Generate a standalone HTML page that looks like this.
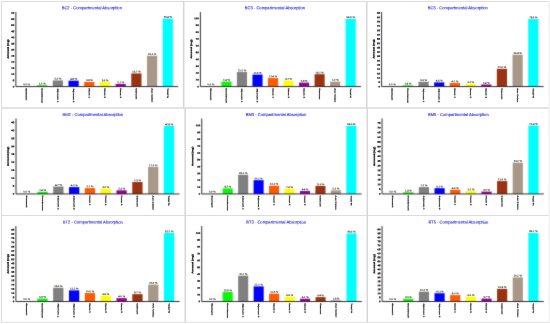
<!DOCTYPE html>
<html><head><meta charset="utf-8"><title>Compartmental Absorption</title>
<style>
html,body{margin:0;padding:0;background:#fff;}
body{width:550px;height:324px;overflow:hidden;font-family:"Liberation Sans",sans-serif;}
svg{display:block;}
svg text{font-family:"Liberation Sans",sans-serif;text-rendering:geometricPrecision;}
.tt{font-size:4.12px;fill:#1e1ee2;stroke:#1e1ee2;stroke-width:0.1px;}
.tk{font-size:2.7px;font-weight:bold;fill:#000;stroke:#000;stroke-width:0.22px;}
.vl{font-size:2.65px;font-weight:bold;fill:#30301a;stroke:#30301a;stroke-width:0.05px;}
.xl{font-size:2.85px;font-weight:bold;fill:#0a0a0a;stroke:#0a0a0a;stroke-width:0.26px;}
.yl{font-size:3.1px;font-weight:bold;fill:#000;stroke:#000;stroke-width:0.3px;}
</style></head>
<body>
<svg width="550" height="324" viewBox="0 0 550 324">
<defs><filter id="f" x="-5" y="-5" width="200" height="120" filterUnits="userSpaceOnUse" color-interpolation-filters="sRGB"><feConvolveMatrix order="3" kernelMatrix="0.0144 0.0912 0.0144 0.0912 0.5776 0.0912 0.0144 0.0912 0.0144" edgeMode="duplicate" preserveAlpha="false"/></filter><filter id="t" x="-5" y="-5" width="200" height="120" filterUnits="userSpaceOnUse" color-interpolation-filters="sRGB"><feConvolveMatrix order="3" kernelMatrix="0.0025 0.0450 0.0025 0.0450 0.8100 0.0450 0.0025 0.0450 0.0025" edgeMode="duplicate" preserveAlpha="false"/></filter></defs>
<g fill="none">
<path d="M1 1.5H549" stroke="#dedede" stroke-width="1.1"/><path d="M1 108H549" stroke="#e3e3e3" stroke-width="2"/><path d="M1 215.5H549" stroke="#dcdcdc" stroke-width="1.2"/><path d="M1 322.4H549" stroke="#e6e6e6" stroke-width="1.1"/>
<path d="M1.5 1V322.9" stroke="#dcdcdc" stroke-width="1.1"/><path d="M183.7 1V108M366.7 1V108M185.2 108V215.5M367.3 108V322.4M185.3 215.5V322.4" stroke="#d6d6d6" stroke-width="1.5"/><path d="M549.2 1V322.9" stroke="#f0f0f0" stroke-width="1.5"/>
</g>
<g transform="translate(0.00 0.00) scale(1.0000 1)">
<g filter="url(#f)">
<rect x="37.10" y="85.20" width="10.20" height="1.35" fill="#08f808"/><rect x="52.80" y="80.41" width="10.20" height="6.14" fill="#808080"/><rect x="68.50" y="80.66" width="10.20" height="5.89" fill="#0000ff"/><rect x="84.20" y="81.89" width="10.20" height="4.66" fill="#ff5a00"/><rect x="99.90" y="82.13" width="10.20" height="4.42" fill="#ffff00"/><rect x="115.60" y="83.97" width="10.20" height="2.58" fill="#990099"/><rect x="131.30" y="73.42" width="10.20" height="13.13" fill="#993311"/><rect x="147.00" y="55.74" width="10.20" height="30.81" fill="#a89888"/><rect x="162.70" y="18.55" width="10.20" height="68.00" fill="#00ffff"/>
<path d="M15.85 12.00V86.55H178.20" stroke="#1a1a1a" stroke-width="0.9" fill="none"/>
</g>
<g filter="url(#t)">
<text class="tt" transform="translate(91.80 9.20) rotate(0.06)" text-anchor="middle" style="font-size:4.120px">BC2 - Compartmental Absorption</text>
<text class="yl" transform="translate(8.70 49) rotate(-89.94) scale(1 0.74)" text-anchor="middle">Amount (mg)</text>
<text class="tk" transform="translate(14.2 87.40) rotate(0.06) scale(1 0.85)" text-anchor="end">0</text><text class="tk" transform="translate(14.2 81.26) rotate(0.06) scale(1 0.85)" text-anchor="end">5</text><text class="tk" transform="translate(14.2 75.12) rotate(0.06) scale(1 0.85)" text-anchor="end">10</text><text class="tk" transform="translate(14.2 68.99) rotate(0.06) scale(1 0.85)" text-anchor="end">15</text><text class="tk" transform="translate(14.2 62.85) rotate(0.06) scale(1 0.85)" text-anchor="end">20</text><text class="tk" transform="translate(14.2 56.71) rotate(0.06) scale(1 0.85)" text-anchor="end">25</text><text class="tk" transform="translate(14.2 50.58) rotate(0.06) scale(1 0.85)" text-anchor="end">30</text><text class="tk" transform="translate(14.2 44.44) rotate(0.06) scale(1 0.85)" text-anchor="end">35</text><text class="tk" transform="translate(14.2 38.30) rotate(0.06) scale(1 0.85)" text-anchor="end">40</text><text class="tk" transform="translate(14.2 32.16) rotate(0.06) scale(1 0.85)" text-anchor="end">45</text><text class="tk" transform="translate(14.2 26.03) rotate(0.06) scale(1 0.85)" text-anchor="end">50</text><text class="tk" transform="translate(14.2 19.89) rotate(0.06) scale(1 0.85)" text-anchor="end">55</text><text class="tk" transform="translate(14.2 13.75) rotate(0.06) scale(1 0.85)" text-anchor="end">60</text>
<text class="vl" transform="translate(26.50 85.15) rotate(0.06)" text-anchor="middle">0.0 %</text><text class="xl" transform="translate(25.85 88.2) rotate(90.06) scale(1 0.62)">Stomach</text>
<text class="vl" transform="translate(42.20 84.40) rotate(0.06)" text-anchor="middle">1.1 %</text><text class="xl" transform="translate(41.55 88.2) rotate(90.06) scale(1 0.62)">Duodenum</text>
<text class="vl" transform="translate(57.90 79.61) rotate(0.06)" text-anchor="middle">5.0 %</text><text class="xl" transform="translate(57.25 88.2) rotate(90.06) scale(1 0.62)">Jejunum 1</text>
<text class="vl" transform="translate(73.60 79.86) rotate(0.06)" text-anchor="middle">4.8 %</text><text class="xl" transform="translate(72.95 88.2) rotate(90.06) scale(1 0.62)">Jejunum 2</text>
<text class="vl" transform="translate(89.30 81.09) rotate(0.06)" text-anchor="middle">3.8 %</text><text class="xl" transform="translate(88.65 88.2) rotate(90.06) scale(1 0.62)">Ileum 1</text>
<text class="vl" transform="translate(105.00 81.33) rotate(0.06)" text-anchor="middle">3.6 %</text><text class="xl" transform="translate(104.35 88.2) rotate(90.06) scale(1 0.62)">Ileum 2</text>
<text class="vl" transform="translate(120.70 83.17) rotate(0.06)" text-anchor="middle">2.1 %</text><text class="xl" transform="translate(120.05 88.2) rotate(90.06) scale(1 0.62)">Ileum 3</text>
<text class="vl" transform="translate(136.40 72.62) rotate(0.06)" text-anchor="middle">10.7 %</text><text class="xl" transform="translate(135.75 88.2) rotate(90.06) scale(1 0.62)">Caecum</text>
<text class="vl" transform="translate(152.10 54.94) rotate(0.06)" text-anchor="middle">25.1 %</text><text class="xl" transform="translate(151.45 88.2) rotate(90.06) scale(1 0.62)">Asc Colon</text>
<text class="vl" transform="translate(167.80 17.75) rotate(0.06)" text-anchor="middle">55.4 %</text><text class="xl" transform="translate(167.15 88.2) rotate(90.06) scale(1 0.62)">Total %</text>
</g>
</g>
<g transform="translate(184.72 0.00) scale(0.9890 1)">
<g filter="url(#f)">
<rect x="37.10" y="81.51" width="10.20" height="5.04" fill="#08f808"/><rect x="52.80" y="72.03" width="10.20" height="14.52" fill="#808080"/><rect x="68.50" y="74.56" width="10.20" height="11.99" fill="#0000ff"/><rect x="84.20" y="78.10" width="10.20" height="8.45" fill="#ff5a00"/><rect x="99.90" y="80.62" width="10.20" height="5.93" fill="#ffff00"/><rect x="115.60" y="82.60" width="10.20" height="3.95" fill="#990099"/><rect x="131.30" y="74.21" width="10.20" height="12.34" fill="#993311"/><rect x="147.00" y="81.64" width="10.20" height="4.91" fill="#a89888"/><rect x="162.70" y="18.74" width="10.20" height="67.81" fill="#00ffff"/>
<path d="M15.85 12.00V86.55H178.20" stroke="#1a1a1a" stroke-width="0.9" fill="none"/>
</g>
<g filter="url(#t)">
<text class="tt" transform="translate(91.18 9.20) rotate(0.06)" text-anchor="middle" style="font-size:4.166px">BC3 - Compartmental Absorption</text>
<text class="yl" transform="translate(7.30 49) rotate(-89.94) scale(1 0.74)" text-anchor="middle">Amount (mg)</text>
<text class="tk" transform="translate(14.2 87.40) rotate(0.06) scale(1 0.85)" text-anchor="end">0</text><text class="tk" transform="translate(14.2 80.58) rotate(0.06) scale(1 0.85)" text-anchor="end">10</text><text class="tk" transform="translate(14.2 73.77) rotate(0.06) scale(1 0.85)" text-anchor="end">20</text><text class="tk" transform="translate(14.2 66.95) rotate(0.06) scale(1 0.85)" text-anchor="end">30</text><text class="tk" transform="translate(14.2 60.14) rotate(0.06) scale(1 0.85)" text-anchor="end">40</text><text class="tk" transform="translate(14.2 53.32) rotate(0.06) scale(1 0.85)" text-anchor="end">50</text><text class="tk" transform="translate(14.2 46.51) rotate(0.06) scale(1 0.85)" text-anchor="end">60</text><text class="tk" transform="translate(14.2 39.69) rotate(0.06) scale(1 0.85)" text-anchor="end">70</text><text class="tk" transform="translate(14.2 32.88) rotate(0.06) scale(1 0.85)" text-anchor="end">80</text><text class="tk" transform="translate(14.2 26.06) rotate(0.06) scale(1 0.85)" text-anchor="end">90</text><text class="tk" transform="translate(14.2 19.25) rotate(0.06) scale(1 0.85)" text-anchor="end">100</text>
<text class="vl" transform="translate(26.50 85.15) rotate(0.06)" text-anchor="middle">0.0 %</text><text class="xl" transform="translate(25.85 88.2) rotate(90.06) scale(1 0.62)">Stomach</text>
<text class="vl" transform="translate(42.20 80.71) rotate(0.06)" text-anchor="middle">7.4 %</text><text class="xl" transform="translate(41.55 88.2) rotate(90.06) scale(1 0.62)">Duodenum</text>
<text class="vl" transform="translate(57.90 71.23) rotate(0.06)" text-anchor="middle">21.3 %</text><text class="xl" transform="translate(57.25 88.2) rotate(90.06) scale(1 0.62)">Jejunum 1</text>
<text class="vl" transform="translate(73.60 73.76) rotate(0.06)" text-anchor="middle">17.6 %</text><text class="xl" transform="translate(72.95 88.2) rotate(90.06) scale(1 0.62)">Jejunum 2</text>
<text class="vl" transform="translate(89.30 77.30) rotate(0.06)" text-anchor="middle">12.4 %</text><text class="xl" transform="translate(88.65 88.2) rotate(90.06) scale(1 0.62)">Ileum 1</text>
<text class="vl" transform="translate(105.00 79.82) rotate(0.06)" text-anchor="middle">8.7 %</text><text class="xl" transform="translate(104.35 88.2) rotate(90.06) scale(1 0.62)">Ileum 2</text>
<text class="vl" transform="translate(120.70 81.80) rotate(0.06)" text-anchor="middle">5.8 %</text><text class="xl" transform="translate(120.05 88.2) rotate(90.06) scale(1 0.62)">Ileum 3</text>
<text class="vl" transform="translate(136.40 73.41) rotate(0.06)" text-anchor="middle">18.1 %</text><text class="xl" transform="translate(135.75 88.2) rotate(90.06) scale(1 0.62)">Caecum</text>
<text class="vl" transform="translate(152.10 80.84) rotate(0.06)" text-anchor="middle">7.2 %</text><text class="xl" transform="translate(151.45 88.2) rotate(90.06) scale(1 0.62)">Asc Colon</text>
<text class="vl" transform="translate(167.80 17.94) rotate(0.06)" text-anchor="middle">99.5 %</text><text class="xl" transform="translate(167.15 88.2) rotate(90.06) scale(1 0.62)">Total %</text>
</g>
</g>
<g transform="translate(365.74 0.00) scale(0.9985 1)">
<g filter="url(#f)">
<rect x="37.10" y="85.34" width="10.20" height="1.21" fill="#08f808"/><rect x="52.80" y="81.79" width="10.20" height="4.76" fill="#808080"/><rect x="68.50" y="82.40" width="10.20" height="4.15" fill="#0000ff"/><rect x="84.20" y="83.00" width="10.20" height="3.55" fill="#ff5a00"/><rect x="99.90" y="83.87" width="10.20" height="2.68" fill="#ffff00"/><rect x="115.60" y="84.47" width="10.20" height="2.08" fill="#990099"/><rect x="131.30" y="68.81" width="10.20" height="17.74" fill="#993311"/><rect x="147.00" y="54.71" width="10.20" height="31.84" fill="#a89888"/><rect x="162.70" y="19.06" width="10.20" height="67.49" fill="#00ffff"/>
<path d="M15.85 12.00V86.55H178.20" stroke="#1a1a1a" stroke-width="0.9" fill="none"/>
</g>
<g filter="url(#t)">
<text class="tt" transform="translate(92.20 9.20) rotate(0.06)" text-anchor="middle" style="font-size:4.126px">BC5 - Compartmental Absorption</text>
<text class="yl" transform="translate(8.70 49) rotate(-89.94) scale(1 0.74)" text-anchor="middle">Amount (mg)</text>
<text class="tk" transform="translate(14.2 87.40) rotate(0.06) scale(1 0.85)" text-anchor="end">0</text><text class="tk" transform="translate(14.2 83.07) rotate(0.06) scale(1 0.85)" text-anchor="end">5</text><text class="tk" transform="translate(14.2 78.75) rotate(0.06) scale(1 0.85)" text-anchor="end">10</text><text class="tk" transform="translate(14.2 74.42) rotate(0.06) scale(1 0.85)" text-anchor="end">15</text><text class="tk" transform="translate(14.2 70.09) rotate(0.06) scale(1 0.85)" text-anchor="end">20</text><text class="tk" transform="translate(14.2 65.77) rotate(0.06) scale(1 0.85)" text-anchor="end">25</text><text class="tk" transform="translate(14.2 61.44) rotate(0.06) scale(1 0.85)" text-anchor="end">30</text><text class="tk" transform="translate(14.2 57.11) rotate(0.06) scale(1 0.85)" text-anchor="end">35</text><text class="tk" transform="translate(14.2 52.79) rotate(0.06) scale(1 0.85)" text-anchor="end">40</text><text class="tk" transform="translate(14.2 48.46) rotate(0.06) scale(1 0.85)" text-anchor="end">45</text><text class="tk" transform="translate(14.2 44.14) rotate(0.06) scale(1 0.85)" text-anchor="end">50</text><text class="tk" transform="translate(14.2 39.81) rotate(0.06) scale(1 0.85)" text-anchor="end">55</text><text class="tk" transform="translate(14.2 35.48) rotate(0.06) scale(1 0.85)" text-anchor="end">60</text><text class="tk" transform="translate(14.2 31.16) rotate(0.06) scale(1 0.85)" text-anchor="end">65</text><text class="tk" transform="translate(14.2 26.83) rotate(0.06) scale(1 0.85)" text-anchor="end">70</text><text class="tk" transform="translate(14.2 22.50) rotate(0.06) scale(1 0.85)" text-anchor="end">75</text><text class="tk" transform="translate(14.2 18.18) rotate(0.06) scale(1 0.85)" text-anchor="end">80</text><text class="tk" transform="translate(14.2 13.85) rotate(0.06) scale(1 0.85)" text-anchor="end">85</text>
<text class="vl" transform="translate(26.50 85.15) rotate(0.06)" text-anchor="middle">0.0 %</text><text class="xl" transform="translate(25.85 88.2) rotate(90.06) scale(1 0.62)">Stomach</text>
<text class="vl" transform="translate(42.20 84.54) rotate(0.06)" text-anchor="middle">1.4 %</text><text class="xl" transform="translate(41.55 88.2) rotate(90.06) scale(1 0.62)">Duodenum</text>
<text class="vl" transform="translate(57.90 80.99) rotate(0.06)" text-anchor="middle">5.5 %</text><text class="xl" transform="translate(57.25 88.2) rotate(90.06) scale(1 0.62)">Jejunum 1</text>
<text class="vl" transform="translate(73.60 81.60) rotate(0.06)" text-anchor="middle">4.8 %</text><text class="xl" transform="translate(72.95 88.2) rotate(90.06) scale(1 0.62)">Jejunum 2</text>
<text class="vl" transform="translate(89.30 82.20) rotate(0.06)" text-anchor="middle">4.1 %</text><text class="xl" transform="translate(88.65 88.2) rotate(90.06) scale(1 0.62)">Ileum 1</text>
<text class="vl" transform="translate(105.00 83.07) rotate(0.06)" text-anchor="middle">3.1 %</text><text class="xl" transform="translate(104.35 88.2) rotate(90.06) scale(1 0.62)">Ileum 2</text>
<text class="vl" transform="translate(120.70 83.67) rotate(0.06)" text-anchor="middle">2.4 %</text><text class="xl" transform="translate(120.05 88.2) rotate(90.06) scale(1 0.62)">Ileum 3</text>
<text class="vl" transform="translate(136.40 68.01) rotate(0.06)" text-anchor="middle">20.5 %</text><text class="xl" transform="translate(135.75 88.2) rotate(90.06) scale(1 0.62)">Caecum</text>
<text class="vl" transform="translate(152.10 53.91) rotate(0.06)" text-anchor="middle">36.8 %</text><text class="xl" transform="translate(151.45 88.2) rotate(90.06) scale(1 0.62)">Asc Colon</text>
<text class="vl" transform="translate(167.80 18.26) rotate(0.06)" text-anchor="middle">78.0 %</text><text class="xl" transform="translate(167.15 88.2) rotate(90.06) scale(1 0.62)">Total %</text>
</g>
</g>
<g transform="translate(0.05 107.40) scale(1.0070 1)">
<g filter="url(#f)">
<rect x="37.10" y="84.33" width="10.20" height="2.22" fill="#08f808"/><rect x="52.80" y="79.09" width="10.20" height="7.46" fill="#808080"/><rect x="68.50" y="79.72" width="10.20" height="6.83" fill="#0000ff"/><rect x="84.20" y="80.68" width="10.20" height="5.87" fill="#ff5a00"/><rect x="99.90" y="81.47" width="10.20" height="5.08" fill="#ffff00"/><rect x="115.60" y="82.90" width="10.20" height="3.65" fill="#990099"/><rect x="131.30" y="74.64" width="10.20" height="11.91" fill="#993311"/><rect x="147.00" y="59.56" width="10.20" height="26.99" fill="#a89888"/><rect x="162.70" y="18.59" width="10.20" height="67.96" fill="#00ffff"/>
<path d="M15.85 11.10V86.55H178.20" stroke="#1a1a1a" stroke-width="0.9" fill="none"/>
</g>
<g filter="url(#t)">
<text class="tt" transform="translate(92.10 8.65) rotate(0.06)" text-anchor="middle" style="font-size:4.091px">BM2 - Compartmental Absorption</text>
<text class="yl" transform="translate(8.70 49) rotate(-89.94) scale(1 0.74)" text-anchor="middle">Amount (mg)</text>
<text class="tk" transform="translate(14.2 87.40) rotate(0.06) scale(1 0.85)" text-anchor="end">0</text><text class="tk" transform="translate(14.2 79.46) rotate(0.06) scale(1 0.85)" text-anchor="end">5</text><text class="tk" transform="translate(14.2 71.52) rotate(0.06) scale(1 0.85)" text-anchor="end">10</text><text class="tk" transform="translate(14.2 63.58) rotate(0.06) scale(1 0.85)" text-anchor="end">15</text><text class="tk" transform="translate(14.2 55.64) rotate(0.06) scale(1 0.85)" text-anchor="end">20</text><text class="tk" transform="translate(14.2 47.71) rotate(0.06) scale(1 0.85)" text-anchor="end">25</text><text class="tk" transform="translate(14.2 39.77) rotate(0.06) scale(1 0.85)" text-anchor="end">30</text><text class="tk" transform="translate(14.2 31.83) rotate(0.06) scale(1 0.85)" text-anchor="end">35</text><text class="tk" transform="translate(14.2 23.89) rotate(0.06) scale(1 0.85)" text-anchor="end">40</text><text class="tk" transform="translate(14.2 15.95) rotate(0.06) scale(1 0.85)" text-anchor="end">45</text>
<text class="vl" transform="translate(26.50 85.15) rotate(0.06)" text-anchor="middle">0.0 %</text><text class="xl" transform="translate(25.85 88.2) rotate(90.06) scale(1 0.62)">Stomach</text>
<text class="vl" transform="translate(42.20 83.53) rotate(0.06)" text-anchor="middle">1.4 %</text><text class="xl" transform="translate(41.55 88.2) rotate(90.06) scale(1 0.62)">Duodenum</text>
<text class="vl" transform="translate(57.90 78.29) rotate(0.06)" text-anchor="middle">4.7 %</text><text class="xl" transform="translate(57.25 88.2) rotate(90.06) scale(1 0.62)">Jejunum 1</text>
<text class="vl" transform="translate(73.60 78.92) rotate(0.06)" text-anchor="middle">4.3 %</text><text class="xl" transform="translate(72.95 88.2) rotate(90.06) scale(1 0.62)">Jejunum 2</text>
<text class="vl" transform="translate(89.30 79.88) rotate(0.06)" text-anchor="middle">3.7 %</text><text class="xl" transform="translate(88.65 88.2) rotate(90.06) scale(1 0.62)">Ileum 1</text>
<text class="vl" transform="translate(105.00 80.67) rotate(0.06)" text-anchor="middle">3.2 %</text><text class="xl" transform="translate(104.35 88.2) rotate(90.06) scale(1 0.62)">Ileum 2</text>
<text class="vl" transform="translate(120.70 82.10) rotate(0.06)" text-anchor="middle">2.3 %</text><text class="xl" transform="translate(120.05 88.2) rotate(90.06) scale(1 0.62)">Ileum 3</text>
<text class="vl" transform="translate(136.40 73.84) rotate(0.06)" text-anchor="middle">7.5 %</text><text class="xl" transform="translate(135.75 88.2) rotate(90.06) scale(1 0.62)">Caecum</text>
<text class="vl" transform="translate(152.10 58.76) rotate(0.06)" text-anchor="middle">17.0 %</text><text class="xl" transform="translate(151.45 88.2) rotate(90.06) scale(1 0.62)">Asc Colon</text>
<text class="vl" transform="translate(167.80 17.79) rotate(0.06)" text-anchor="middle">42.8 %</text><text class="xl" transform="translate(167.15 88.2) rotate(90.06) scale(1 0.62)">Total %</text>
</g>
</g>
<g transform="translate(186.15 107.40) scale(0.9846 1)">
<g filter="url(#f)">
<rect x="37.10" y="80.94" width="10.20" height="5.61" fill="#08f808"/><rect x="52.80" y="67.32" width="10.20" height="19.23" fill="#808080"/><rect x="68.50" y="72.79" width="10.20" height="13.76" fill="#0000ff"/><rect x="84.20" y="78.27" width="10.20" height="8.28" fill="#ff5a00"/><rect x="99.90" y="81.35" width="10.20" height="5.20" fill="#ffff00"/><rect x="115.60" y="83.54" width="10.20" height="3.01" fill="#990099"/><rect x="131.30" y="78.61" width="10.20" height="7.94" fill="#993311"/><rect x="147.00" y="82.99" width="10.20" height="3.56" fill="#a89888"/><rect x="162.70" y="18.44" width="10.20" height="68.11" fill="#00ffff"/>
<path d="M15.85 11.10V86.55H178.20" stroke="#1a1a1a" stroke-width="0.9" fill="none"/>
</g>
<g filter="url(#t)">
<text class="tt" transform="translate(91.26 8.65) rotate(0.06)" text-anchor="middle" style="font-size:4.184px">BM3 - Compartmental Absorption</text>
<text class="yl" transform="translate(7.30 49) rotate(-89.94) scale(1 0.74)" text-anchor="middle">Amount (mg)</text>
<text class="tk" transform="translate(14.2 87.40) rotate(0.06) scale(1 0.85)" text-anchor="end">0</text><text class="tk" transform="translate(14.2 80.55) rotate(0.06) scale(1 0.85)" text-anchor="end">10</text><text class="tk" transform="translate(14.2 73.71) rotate(0.06) scale(1 0.85)" text-anchor="end">20</text><text class="tk" transform="translate(14.2 66.86) rotate(0.06) scale(1 0.85)" text-anchor="end">30</text><text class="tk" transform="translate(14.2 60.02) rotate(0.06) scale(1 0.85)" text-anchor="end">40</text><text class="tk" transform="translate(14.2 53.18) rotate(0.06) scale(1 0.85)" text-anchor="end">50</text><text class="tk" transform="translate(14.2 46.33) rotate(0.06) scale(1 0.85)" text-anchor="end">60</text><text class="tk" transform="translate(14.2 39.49) rotate(0.06) scale(1 0.85)" text-anchor="end">70</text><text class="tk" transform="translate(14.2 32.64) rotate(0.06) scale(1 0.85)" text-anchor="end">80</text><text class="tk" transform="translate(14.2 25.80) rotate(0.06) scale(1 0.85)" text-anchor="end">90</text><text class="tk" transform="translate(14.2 18.95) rotate(0.06) scale(1 0.85)" text-anchor="end">100</text>
<text class="vl" transform="translate(26.50 85.15) rotate(0.06)" text-anchor="middle">0.0 %</text><text class="xl" transform="translate(25.85 88.2) rotate(90.06) scale(1 0.62)">Stomach</text>
<text class="vl" transform="translate(42.20 80.14) rotate(0.06)" text-anchor="middle">8.2 %</text><text class="xl" transform="translate(41.55 88.2) rotate(90.06) scale(1 0.62)">Duodenum</text>
<text class="vl" transform="translate(57.90 66.52) rotate(0.06)" text-anchor="middle">28.1 %</text><text class="xl" transform="translate(57.25 88.2) rotate(90.06) scale(1 0.62)">Jejunum 1</text>
<text class="vl" transform="translate(73.60 71.99) rotate(0.06)" text-anchor="middle">20.1 %</text><text class="xl" transform="translate(72.95 88.2) rotate(90.06) scale(1 0.62)">Jejunum 2</text>
<text class="vl" transform="translate(89.30 77.47) rotate(0.06)" text-anchor="middle">12.1 %</text><text class="xl" transform="translate(88.65 88.2) rotate(90.06) scale(1 0.62)">Ileum 1</text>
<text class="vl" transform="translate(105.00 80.55) rotate(0.06)" text-anchor="middle">7.6 %</text><text class="xl" transform="translate(104.35 88.2) rotate(90.06) scale(1 0.62)">Ileum 2</text>
<text class="vl" transform="translate(120.70 82.74) rotate(0.06)" text-anchor="middle">4.4 %</text><text class="xl" transform="translate(120.05 88.2) rotate(90.06) scale(1 0.62)">Ileum 3</text>
<text class="vl" transform="translate(136.40 77.81) rotate(0.06)" text-anchor="middle">11.6 %</text><text class="xl" transform="translate(135.75 88.2) rotate(90.06) scale(1 0.62)">Caecum</text>
<text class="vl" transform="translate(152.10 82.19) rotate(0.06)" text-anchor="middle">5.2 %</text><text class="xl" transform="translate(151.45 88.2) rotate(90.06) scale(1 0.62)">Asc Colon</text>
<text class="vl" transform="translate(167.80 17.64) rotate(0.06)" text-anchor="middle">99.5 %</text><text class="xl" transform="translate(167.15 88.2) rotate(90.06) scale(1 0.62)">Total %</text>
</g>
</g>
<g transform="translate(366.26 107.40) scale(0.9963 1)">
<g filter="url(#f)">
<rect x="37.10" y="84.85" width="10.20" height="1.70" fill="#08f808"/><rect x="52.80" y="79.74" width="10.20" height="6.81" fill="#808080"/><rect x="68.50" y="80.78" width="10.20" height="5.77" fill="#0000ff"/><rect x="84.20" y="82.29" width="10.20" height="4.26" fill="#ff5a00"/><rect x="99.90" y="83.62" width="10.20" height="2.93" fill="#ffff00"/><rect x="115.60" y="84.19" width="10.20" height="2.37" fill="#990099"/><rect x="131.30" y="73.68" width="10.20" height="12.87" fill="#993311"/><rect x="147.00" y="55.24" width="10.20" height="31.31" fill="#a89888"/><rect x="162.70" y="18.06" width="10.20" height="68.49" fill="#00ffff"/>
<path d="M15.85 11.10V86.55H178.20" stroke="#1a1a1a" stroke-width="0.9" fill="none"/>
</g>
<g filter="url(#t)">
<text class="tt" transform="translate(92.38 8.65) rotate(0.06)" text-anchor="middle" style="font-size:4.135px">BM5 - Compartmental Absorption</text>
<text class="yl" transform="translate(8.70 49) rotate(-89.94) scale(1 0.74)" text-anchor="middle">Amount (mg)</text>
<text class="tk" transform="translate(14.2 87.40) rotate(0.06) scale(1 0.85)" text-anchor="end">0</text><text class="tk" transform="translate(14.2 82.67) rotate(0.06) scale(1 0.85)" text-anchor="end">5</text><text class="tk" transform="translate(14.2 77.94) rotate(0.06) scale(1 0.85)" text-anchor="end">10</text><text class="tk" transform="translate(14.2 73.21) rotate(0.06) scale(1 0.85)" text-anchor="end">15</text><text class="tk" transform="translate(14.2 68.48) rotate(0.06) scale(1 0.85)" text-anchor="end">20</text><text class="tk" transform="translate(14.2 63.75) rotate(0.06) scale(1 0.85)" text-anchor="end">25</text><text class="tk" transform="translate(14.2 59.02) rotate(0.06) scale(1 0.85)" text-anchor="end">30</text><text class="tk" transform="translate(14.2 54.29) rotate(0.06) scale(1 0.85)" text-anchor="end">35</text><text class="tk" transform="translate(14.2 49.56) rotate(0.06) scale(1 0.85)" text-anchor="end">40</text><text class="tk" transform="translate(14.2 44.83) rotate(0.06) scale(1 0.85)" text-anchor="end">45</text><text class="tk" transform="translate(14.2 40.10) rotate(0.06) scale(1 0.85)" text-anchor="end">50</text><text class="tk" transform="translate(14.2 35.37) rotate(0.06) scale(1 0.85)" text-anchor="end">55</text><text class="tk" transform="translate(14.2 30.64) rotate(0.06) scale(1 0.85)" text-anchor="end">60</text><text class="tk" transform="translate(14.2 25.91) rotate(0.06) scale(1 0.85)" text-anchor="end">65</text><text class="tk" transform="translate(14.2 21.18) rotate(0.06) scale(1 0.85)" text-anchor="end">70</text><text class="tk" transform="translate(14.2 16.45) rotate(0.06) scale(1 0.85)" text-anchor="end">75</text>
<text class="vl" transform="translate(26.50 85.15) rotate(0.06)" text-anchor="middle">0.0 %</text><text class="xl" transform="translate(25.85 88.2) rotate(90.06) scale(1 0.62)">Stomach</text>
<text class="vl" transform="translate(42.20 84.05) rotate(0.06)" text-anchor="middle">1.8 %</text><text class="xl" transform="translate(41.55 88.2) rotate(90.06) scale(1 0.62)">Duodenum</text>
<text class="vl" transform="translate(57.90 78.94) rotate(0.06)" text-anchor="middle">7.2 %</text><text class="xl" transform="translate(57.25 88.2) rotate(90.06) scale(1 0.62)">Jejunum 1</text>
<text class="vl" transform="translate(73.60 79.98) rotate(0.06)" text-anchor="middle">6.1 %</text><text class="xl" transform="translate(72.95 88.2) rotate(90.06) scale(1 0.62)">Jejunum 2</text>
<text class="vl" transform="translate(89.30 81.49) rotate(0.06)" text-anchor="middle">4.5 %</text><text class="xl" transform="translate(88.65 88.2) rotate(90.06) scale(1 0.62)">Ileum 1</text>
<text class="vl" transform="translate(105.00 82.82) rotate(0.06)" text-anchor="middle">3.1 %</text><text class="xl" transform="translate(104.35 88.2) rotate(90.06) scale(1 0.62)">Ileum 2</text>
<text class="vl" transform="translate(120.70 83.39) rotate(0.06)" text-anchor="middle">2.5 %</text><text class="xl" transform="translate(120.05 88.2) rotate(90.06) scale(1 0.62)">Ileum 3</text>
<text class="vl" transform="translate(136.40 72.88) rotate(0.06)" text-anchor="middle">13.6 %</text><text class="xl" transform="translate(135.75 88.2) rotate(90.06) scale(1 0.62)">Caecum</text>
<text class="vl" transform="translate(152.10 54.44) rotate(0.06)" text-anchor="middle">33.1 %</text><text class="xl" transform="translate(151.45 88.2) rotate(90.06) scale(1 0.62)">Asc Colon</text>
<text class="vl" transform="translate(167.80 17.26) rotate(0.06)" text-anchor="middle">72.4 %</text><text class="xl" transform="translate(167.15 88.2) rotate(90.06) scale(1 0.62)">Total %</text>
</g>
</g>
<g transform="translate(-0.10 214.95) scale(1.0085 1)">
<g filter="url(#f)">
<rect x="37.10" y="83.51" width="10.20" height="3.04" fill="#08f808"/><rect x="52.80" y="72.79" width="10.20" height="13.76" fill="#808080"/><rect x="68.50" y="75.41" width="10.20" height="11.14" fill="#0000ff"/><rect x="84.20" y="78.11" width="10.20" height="8.44" fill="#ff5a00"/><rect x="99.90" y="80.73" width="10.20" height="5.82" fill="#ffff00"/><rect x="115.60" y="83.17" width="10.20" height="3.38" fill="#990099"/><rect x="131.30" y="79.21" width="10.20" height="7.34" fill="#993311"/><rect x="147.00" y="69.67" width="10.20" height="16.88" fill="#a89888"/><rect x="162.70" y="18.01" width="10.20" height="68.54" fill="#00ffff"/>
<path d="M15.85 11.10V86.55H178.20" stroke="#1a1a1a" stroke-width="0.9" fill="none"/>
</g>
<g filter="url(#t)">
<text class="tt" transform="translate(92.10 8.65) rotate(0.06)" text-anchor="middle" style="font-size:4.085px">BT2 - Compartmental Absorption</text>
<text class="yl" transform="translate(8.70 49) rotate(-89.94) scale(1 0.74)" text-anchor="middle">Amount (mg)</text>
<text class="tk" transform="translate(14.2 87.40) rotate(0.06) scale(1 0.85)" text-anchor="end">0</text><text class="tk" transform="translate(14.2 83.18) rotate(0.06) scale(1 0.85)" text-anchor="end">5</text><text class="tk" transform="translate(14.2 78.96) rotate(0.06) scale(1 0.85)" text-anchor="end">10</text><text class="tk" transform="translate(14.2 74.74) rotate(0.06) scale(1 0.85)" text-anchor="end">15</text><text class="tk" transform="translate(14.2 70.52) rotate(0.06) scale(1 0.85)" text-anchor="end">20</text><text class="tk" transform="translate(14.2 66.30) rotate(0.06) scale(1 0.85)" text-anchor="end">25</text><text class="tk" transform="translate(14.2 62.08) rotate(0.06) scale(1 0.85)" text-anchor="end">30</text><text class="tk" transform="translate(14.2 57.86) rotate(0.06) scale(1 0.85)" text-anchor="end">35</text><text class="tk" transform="translate(14.2 53.64) rotate(0.06) scale(1 0.85)" text-anchor="end">40</text><text class="tk" transform="translate(14.2 49.41) rotate(0.06) scale(1 0.85)" text-anchor="end">45</text><text class="tk" transform="translate(14.2 45.19) rotate(0.06) scale(1 0.85)" text-anchor="end">50</text><text class="tk" transform="translate(14.2 40.97) rotate(0.06) scale(1 0.85)" text-anchor="end">55</text><text class="tk" transform="translate(14.2 36.75) rotate(0.06) scale(1 0.85)" text-anchor="end">60</text><text class="tk" transform="translate(14.2 32.53) rotate(0.06) scale(1 0.85)" text-anchor="end">65</text><text class="tk" transform="translate(14.2 28.31) rotate(0.06) scale(1 0.85)" text-anchor="end">70</text><text class="tk" transform="translate(14.2 24.09) rotate(0.06) scale(1 0.85)" text-anchor="end">75</text><text class="tk" transform="translate(14.2 19.87) rotate(0.06) scale(1 0.85)" text-anchor="end">80</text><text class="tk" transform="translate(14.2 15.65) rotate(0.06) scale(1 0.85)" text-anchor="end">85</text>
<text class="vl" transform="translate(26.50 85.15) rotate(0.06)" text-anchor="middle">0.0 %</text><text class="xl" transform="translate(25.85 88.2) rotate(90.06) scale(1 0.62)">Stomach</text>
<text class="vl" transform="translate(42.20 82.71) rotate(0.06)" text-anchor="middle">3.6 %</text><text class="xl" transform="translate(41.55 88.2) rotate(90.06) scale(1 0.62)">Duodenum</text>
<text class="vl" transform="translate(57.90 71.99) rotate(0.06)" text-anchor="middle">16.3 %</text><text class="xl" transform="translate(57.25 88.2) rotate(90.06) scale(1 0.62)">Jejunum 1</text>
<text class="vl" transform="translate(73.60 74.61) rotate(0.06)" text-anchor="middle">13.2 %</text><text class="xl" transform="translate(72.95 88.2) rotate(90.06) scale(1 0.62)">Jejunum 2</text>
<text class="vl" transform="translate(89.30 77.31) rotate(0.06)" text-anchor="middle">10.0 %</text><text class="xl" transform="translate(88.65 88.2) rotate(90.06) scale(1 0.62)">Ileum 1</text>
<text class="vl" transform="translate(105.00 79.93) rotate(0.06)" text-anchor="middle">6.9 %</text><text class="xl" transform="translate(104.35 88.2) rotate(90.06) scale(1 0.62)">Ileum 2</text>
<text class="vl" transform="translate(120.70 82.37) rotate(0.06)" text-anchor="middle">4.0 %</text><text class="xl" transform="translate(120.05 88.2) rotate(90.06) scale(1 0.62)">Ileum 3</text>
<text class="vl" transform="translate(136.40 78.41) rotate(0.06)" text-anchor="middle">8.7 %</text><text class="xl" transform="translate(135.75 88.2) rotate(90.06) scale(1 0.62)">Caecum</text>
<text class="vl" transform="translate(152.10 68.87) rotate(0.06)" text-anchor="middle">20.0 %</text><text class="xl" transform="translate(151.45 88.2) rotate(90.06) scale(1 0.62)">Asc Colon</text>
<text class="vl" transform="translate(167.80 17.21) rotate(0.06)" text-anchor="middle">81.2 %</text><text class="xl" transform="translate(167.15 88.2) rotate(90.06) scale(1 0.62)">Total %</text>
</g>
</g>
<g transform="translate(186.10 214.95) scale(0.9860 1)">
<g filter="url(#f)">
<rect x="21.40" y="86.41" width="10.20" height="0.14" fill="#00c000"/><rect x="37.10" y="77.04" width="10.20" height="9.51" fill="#08f808"/><rect x="52.80" y="60.74" width="10.20" height="25.81" fill="#808080"/><rect x="68.50" y="71.42" width="10.20" height="15.13" fill="#0000ff"/><rect x="84.20" y="78.68" width="10.20" height="7.87" fill="#ff5a00"/><rect x="99.90" y="81.83" width="10.20" height="4.72" fill="#ffff00"/><rect x="115.60" y="83.74" width="10.20" height="2.81" fill="#990099"/><rect x="131.30" y="82.17" width="10.20" height="4.38" fill="#993311"/><rect x="147.00" y="85.32" width="10.20" height="1.23" fill="#a89888"/><rect x="162.70" y="18.44" width="10.20" height="68.11" fill="#00ffff"/>
<path d="M15.85 11.10V86.55H178.20" stroke="#1a1a1a" stroke-width="0.9" fill="none"/>
</g>
<g filter="url(#t)">
<text class="tt" transform="translate(91.33 8.65) rotate(0.06)" text-anchor="middle" style="font-size:4.178px">BT3 - Compartmental Absorption</text>
<text class="yl" transform="translate(7.30 49) rotate(-89.94) scale(1 0.74)" text-anchor="middle">Amount (mg)</text>
<text class="tk" transform="translate(14.2 87.40) rotate(0.06) scale(1 0.85)" text-anchor="end">0</text><text class="tk" transform="translate(14.2 80.55) rotate(0.06) scale(1 0.85)" text-anchor="end">10</text><text class="tk" transform="translate(14.2 73.71) rotate(0.06) scale(1 0.85)" text-anchor="end">20</text><text class="tk" transform="translate(14.2 66.86) rotate(0.06) scale(1 0.85)" text-anchor="end">30</text><text class="tk" transform="translate(14.2 60.02) rotate(0.06) scale(1 0.85)" text-anchor="end">40</text><text class="tk" transform="translate(14.2 53.18) rotate(0.06) scale(1 0.85)" text-anchor="end">50</text><text class="tk" transform="translate(14.2 46.33) rotate(0.06) scale(1 0.85)" text-anchor="end">60</text><text class="tk" transform="translate(14.2 39.49) rotate(0.06) scale(1 0.85)" text-anchor="end">70</text><text class="tk" transform="translate(14.2 32.64) rotate(0.06) scale(1 0.85)" text-anchor="end">80</text><text class="tk" transform="translate(14.2 25.80) rotate(0.06) scale(1 0.85)" text-anchor="end">90</text><text class="tk" transform="translate(14.2 18.95) rotate(0.06) scale(1 0.85)" text-anchor="end">100</text>
<text class="vl" transform="translate(26.50 85.15) rotate(0.06)" text-anchor="middle">0.2 %</text><text class="xl" transform="translate(25.85 88.2) rotate(90.06) scale(1 0.62)">Stomach</text>
<text class="vl" transform="translate(42.20 76.24) rotate(0.06)" text-anchor="middle">13.9 %</text><text class="xl" transform="translate(41.55 88.2) rotate(90.06) scale(1 0.62)">Duodenum</text>
<text class="vl" transform="translate(57.90 59.94) rotate(0.06)" text-anchor="middle">37.7 %</text><text class="xl" transform="translate(57.25 88.2) rotate(90.06) scale(1 0.62)">Jejunum 1</text>
<text class="vl" transform="translate(73.60 70.62) rotate(0.06)" text-anchor="middle">22.1 %</text><text class="xl" transform="translate(72.95 88.2) rotate(90.06) scale(1 0.62)">Jejunum 2</text>
<text class="vl" transform="translate(89.30 77.88) rotate(0.06)" text-anchor="middle">11.5 %</text><text class="xl" transform="translate(88.65 88.2) rotate(90.06) scale(1 0.62)">Ileum 1</text>
<text class="vl" transform="translate(105.00 81.03) rotate(0.06)" text-anchor="middle">6.9 %</text><text class="xl" transform="translate(104.35 88.2) rotate(90.06) scale(1 0.62)">Ileum 2</text>
<text class="vl" transform="translate(120.70 82.94) rotate(0.06)" text-anchor="middle">4.1 %</text><text class="xl" transform="translate(120.05 88.2) rotate(90.06) scale(1 0.62)">Ileum 3</text>
<text class="vl" transform="translate(136.40 81.37) rotate(0.06)" text-anchor="middle">6.4 %</text><text class="xl" transform="translate(135.75 88.2) rotate(90.06) scale(1 0.62)">Caecum</text>
<text class="vl" transform="translate(152.10 84.52) rotate(0.06)" text-anchor="middle">1.8 %</text><text class="xl" transform="translate(151.45 88.2) rotate(90.06) scale(1 0.62)">Asc Colon</text>
<text class="vl" transform="translate(167.80 17.64) rotate(0.06)" text-anchor="middle">99.5 %</text><text class="xl" transform="translate(167.15 88.2) rotate(90.06) scale(1 0.62)">Total %</text>
</g>
</g>
<g transform="translate(366.26 214.95) scale(0.9963 1)">
<g filter="url(#f)">
<rect x="37.10" y="83.75" width="10.20" height="2.80" fill="#08f808"/><rect x="52.80" y="76.70" width="10.20" height="9.85" fill="#808080"/><rect x="68.50" y="78.30" width="10.20" height="8.25" fill="#0000ff"/><rect x="84.20" y="80.14" width="10.20" height="6.41" fill="#ff5a00"/><rect x="99.90" y="81.74" width="10.20" height="4.81" fill="#ffff00"/><rect x="115.60" y="83.59" width="10.20" height="2.96" fill="#990099"/><rect x="131.30" y="73.89" width="10.20" height="12.66" fill="#993311"/><rect x="147.00" y="62.44" width="10.20" height="24.11" fill="#a89888"/><rect x="162.70" y="17.89" width="10.20" height="68.66" fill="#00ffff"/>
<path d="M15.85 11.10V86.55H178.20" stroke="#1a1a1a" stroke-width="0.9" fill="none"/>
</g>
<g filter="url(#t)">
<text class="tt" transform="translate(92.38 8.65) rotate(0.06)" text-anchor="middle" style="font-size:4.135px">BT5 - Compartmental Absorption</text>
<text class="yl" transform="translate(8.70 49) rotate(-89.94) scale(1 0.74)" text-anchor="middle">Amount (mg)</text>
<text class="tk" transform="translate(14.2 87.40) rotate(0.06) scale(1 0.85)" text-anchor="end">0</text><text class="tk" transform="translate(14.2 83.39) rotate(0.06) scale(1 0.85)" text-anchor="end">5</text><text class="tk" transform="translate(14.2 79.39) rotate(0.06) scale(1 0.85)" text-anchor="end">10</text><text class="tk" transform="translate(14.2 75.38) rotate(0.06) scale(1 0.85)" text-anchor="end">15</text><text class="tk" transform="translate(14.2 71.38) rotate(0.06) scale(1 0.85)" text-anchor="end">20</text><text class="tk" transform="translate(14.2 67.37) rotate(0.06) scale(1 0.85)" text-anchor="end">25</text><text class="tk" transform="translate(14.2 63.37) rotate(0.06) scale(1 0.85)" text-anchor="end">30</text><text class="tk" transform="translate(14.2 59.36) rotate(0.06) scale(1 0.85)" text-anchor="end">35</text><text class="tk" transform="translate(14.2 55.36) rotate(0.06) scale(1 0.85)" text-anchor="end">40</text><text class="tk" transform="translate(14.2 51.35) rotate(0.06) scale(1 0.85)" text-anchor="end">45</text><text class="tk" transform="translate(14.2 47.34) rotate(0.06) scale(1 0.85)" text-anchor="end">50</text><text class="tk" transform="translate(14.2 43.34) rotate(0.06) scale(1 0.85)" text-anchor="end">55</text><text class="tk" transform="translate(14.2 39.33) rotate(0.06) scale(1 0.85)" text-anchor="end">60</text><text class="tk" transform="translate(14.2 35.33) rotate(0.06) scale(1 0.85)" text-anchor="end">65</text><text class="tk" transform="translate(14.2 31.32) rotate(0.06) scale(1 0.85)" text-anchor="end">70</text><text class="tk" transform="translate(14.2 27.32) rotate(0.06) scale(1 0.85)" text-anchor="end">75</text><text class="tk" transform="translate(14.2 23.31) rotate(0.06) scale(1 0.85)" text-anchor="end">80</text><text class="tk" transform="translate(14.2 19.31) rotate(0.06) scale(1 0.85)" text-anchor="end">85</text><text class="tk" transform="translate(14.2 15.30) rotate(0.06) scale(1 0.85)" text-anchor="end">90</text>
<text class="vl" transform="translate(26.50 85.15) rotate(0.06)" text-anchor="middle">0.0 %</text><text class="xl" transform="translate(25.85 88.2) rotate(90.06) scale(1 0.62)">Stomach</text>
<text class="vl" transform="translate(42.20 82.95) rotate(0.06)" text-anchor="middle">3.5 %</text><text class="xl" transform="translate(41.55 88.2) rotate(90.06) scale(1 0.62)">Duodenum</text>
<text class="vl" transform="translate(57.90 75.90) rotate(0.06)" text-anchor="middle">12.3 %</text><text class="xl" transform="translate(57.25 88.2) rotate(90.06) scale(1 0.62)">Jejunum 1</text>
<text class="vl" transform="translate(73.60 77.50) rotate(0.06)" text-anchor="middle">10.3 %</text><text class="xl" transform="translate(72.95 88.2) rotate(90.06) scale(1 0.62)">Jejunum 2</text>
<text class="vl" transform="translate(89.30 79.34) rotate(0.06)" text-anchor="middle">8.0 %</text><text class="xl" transform="translate(88.65 88.2) rotate(90.06) scale(1 0.62)">Ileum 1</text>
<text class="vl" transform="translate(105.00 80.94) rotate(0.06)" text-anchor="middle">6.0 %</text><text class="xl" transform="translate(104.35 88.2) rotate(90.06) scale(1 0.62)">Ileum 2</text>
<text class="vl" transform="translate(120.70 82.79) rotate(0.06)" text-anchor="middle">3.7 %</text><text class="xl" transform="translate(120.05 88.2) rotate(90.06) scale(1 0.62)">Ileum 3</text>
<text class="vl" transform="translate(136.40 73.09) rotate(0.06)" text-anchor="middle">15.8 %</text><text class="xl" transform="translate(135.75 88.2) rotate(90.06) scale(1 0.62)">Caecum</text>
<text class="vl" transform="translate(152.10 61.64) rotate(0.06)" text-anchor="middle">30.1 %</text><text class="xl" transform="translate(151.45 88.2) rotate(90.06) scale(1 0.62)">Asc Colon</text>
<text class="vl" transform="translate(167.80 17.09) rotate(0.06)" text-anchor="middle">85.7 %</text><text class="xl" transform="translate(167.15 88.2) rotate(90.06) scale(1 0.62)">Total %</text>
</g>
</g>
</svg>
</body></html>
